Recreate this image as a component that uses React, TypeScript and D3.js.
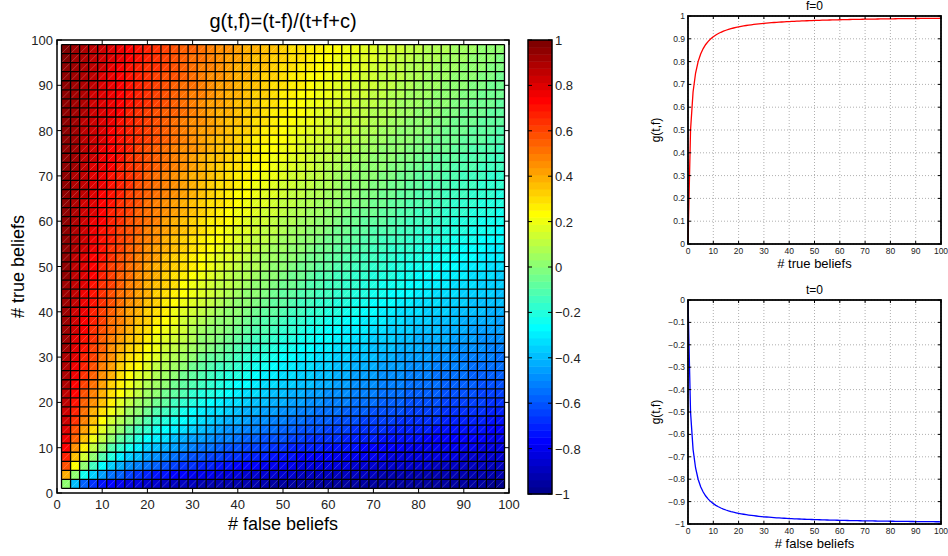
import React from "react";
import * as d3 from "d3";

// ---- data ----
const C = 1; // constant c in g(t,f)
const gridValues = d3.range(1, 100, 2); // grid points for t and f (1,3,...,99)
const lineSamples = d3.range(0, 101, 1); // samples 0..100
const heatTicks = [0, 10, 20, 30, 40, 50, 60, 70, 80, 90, 100];
const cbTicks = [1, 0.8, 0.6, 0.4, 0.2, 0, -0.2, -0.4, -0.6, -0.8, -1];
const topYTicks = [0, 0.1, 0.2, 0.3, 0.4, 0.5, 0.6, 0.7, 0.8, 0.9, 1];
const botYTicks = [0, -0.1, -0.2, -0.3, -0.4, -0.5, -0.6, -0.7, -0.8, -0.9, -1];
const lineXTicks = [0, 10, 20, 30, 40, 50, 60, 70, 80, 90, 100];

const g = (t: number, f: number) => (t - f) / (t + f + C);

// MATLAB jet(64)
function jetMap(m: number): string[] {
  const n = Math.ceil(m / 4);
  const u: number[] = [];
  for (let i = 1; i <= n; i++) u.push(i / n);
  for (let i = 1; i < n; i++) u.push(1);
  for (let i = n; i >= 1; i--) u.push(i / n);
  const off = Math.ceil(n / 2) - (m % 4 === 1 ? 1 : 0);
  const J = Array.from({ length: m }, () => [0, 0, 0]);
  u.forEach((val, k) => {
    const gi = off + k + 1;
    const ri = gi + n;
    const bi = gi - n;
    if (ri >= 1 && ri <= m) J[ri - 1][0] = val;
    if (gi >= 1 && gi <= m) J[gi - 1][1] = val;
    if (bi >= 1 && bi <= m) J[bi - 1][2] = val;
  });
  return J.map(([r, gg, b]) => d3.rgb(r * 255, gg * 255, b * 255).formatHex());
}
const JET = jetMap(64);
const colorOf = (v: number) => {
  let idx = Math.floor(((v + 1) / 2) * 64);
  idx = Math.max(0, Math.min(63, idx));
  return JET[idx];
};

const FONT = "'Liberation Sans', Arial, Helvetica, sans-serif";
const fmt = (v: number) => (v < 0 ? "\u2212" + String(+(-v).toFixed(2)) : String(+v.toFixed(2)));

export default function App() {
  // heatmap scales
  const xH = d3.scaleLinear().domain([0, 100]).range([57, 509]);
  const yH = d3.scaleLinear().domain([0, 100]).range([493, 40]);
  // colorbar
  const cbX0 = 528, cbX1 = 552;
  const yCB = d3.scaleLinear().domain([-1, 1]).range([494, 40]);
  // right plots
  const xR = d3.scaleLinear().domain([0, 100]).range([688, 941]);
  const yTop = d3.scaleLinear().domain([0, 1]).range([244, 16]);
  const yBot = d3.scaleLinear().domain([-1, 0]).range([524, 300]);

  const cells: JSX.Element[] = [];
  for (let i = 0; i < gridValues.length - 1; i++) {
    for (let j = 0; j < gridValues.length - 1; j++) {
      const f0 = gridValues[j], f1 = gridValues[j + 1];
      const t0 = gridValues[i], t1 = gridValues[i + 1];
      const x0 = xH(f0), x1 = xH(f1), y0 = yH(t0), y1 = yH(t1);
      cells.push(
        <rect key={`c${i}-${j}`} x={x0} y={y1} width={x1 - x0} height={y0 - y1}
          fill={colorOf(g(t0, f0))} stroke="none" />
      );
      cells.push(
        <line key={`d${i}-${j}`} x1={x0} y1={y0} x2={x1} y2={y1}
          stroke="#fff" strokeOpacity={0.35} strokeWidth={0.6} />
      );
    }
  }
  const meshLines: JSX.Element[] = [];
  gridValues.forEach((v, k) => {
    meshLines.push(<line key={`mv${k}`} x1={xH(v)} x2={xH(v)} y1={yH(gridValues[0])} y2={yH(gridValues[gridValues.length - 1])} stroke="#000" strokeWidth={1.3} />);
    meshLines.push(<line key={`mh${k}`} y1={yH(v)} y2={yH(v)} x1={xH(gridValues[0])} x2={xH(gridValues[gridValues.length - 1])} stroke="#000" strokeWidth={1.3} />);
  });

  const cbStops = JET.map((c, k) => (
    <rect key={`cb${k}`} x={cbX0} width={cbX1 - cbX0}
      y={yCB(-1 + ((k + 1) / 64) * 2)} height={yCB(-1 + (k / 64) * 2) - yCB(-1 + ((k + 1) / 64) * 2) + 0.5}
      fill={c} />
  ));

  const topLine = d3.line<number>().x((t) => xR(t)).y((t) => yTop(g(t, 0)))(lineSamples) || "";
  const botLine = d3.line<number>().x((f) => xR(f)).y((f) => yBot(g(0, f)))(lineSamples) || "";

  const linePanel = (
    yS: d3.ScaleLinear<number, number>, yTicks: number[], path: string, color: string,
    title: string, xlabel: string, titleY: number
  ) => {
    const [yb, yt] = yS.range();
    return (
      <g>
        {lineXTicks.map((v) => (
          <line key={`gx${v}`} x1={xR(v)} x2={xR(v)} y1={yb} y2={yt} stroke="#9a9a9a" strokeWidth={0.8} strokeDasharray="1,2" />
        ))}
        {yTicks.map((v) => (
          <line key={`gy${v}`} x1={xR(0)} x2={xR(100)} y1={yS(v)} y2={yS(v)} stroke="#9a9a9a" strokeWidth={0.8} strokeDasharray="1,2" />
        ))}
        <path d={path} fill="none" stroke={color} strokeWidth={1.3} />
        <rect x={xR(0)} y={yt} width={xR(100) - xR(0)} height={yb - yt} fill="none" stroke="#000" strokeWidth={1.8} />
        {lineXTicks.map((v) => (
          <g key={`tx${v}`}>
            <line x1={xR(v)} x2={xR(v)} y1={yb} y2={yb - 3} stroke="#000" strokeWidth={1} />
            <line x1={xR(v)} x2={xR(v)} y1={yt} y2={yt + 3} stroke="#000" strokeWidth={1} />
            <text x={xR(v)} y={yb + 10} textAnchor="middle" fontSize={8.5} fontFamily={FONT} fill="#222">{v}</text>
          </g>
        ))}
        {yTicks.map((v) => (
          <g key={`ty${v}`}>
            <line x1={xR(0)} x2={xR(0) + 3} y1={yS(v)} y2={yS(v)} stroke="#000" strokeWidth={1} />
            <line x1={xR(100)} x2={xR(100) - 3} y1={yS(v)} y2={yS(v)} stroke="#000" strokeWidth={1} />
            <text x={xR(0) - 3} y={yS(v) + 3} textAnchor="end" fontSize={8.5} fontFamily={FONT} fill="#222">{fmt(v)}</text>
          </g>
        ))}
        <text x={(xR(0) + xR(100)) / 2} y={yb + 24} textAnchor="middle" fontSize={13} fontFamily={FONT} fill="#000">{xlabel}</text>
        <text x={(xR(0) + xR(100)) / 2} y={titleY} textAnchor="middle" fontSize={12} fontFamily={FONT} fill="#000">{title}</text>
        <text transform={`translate(660,${(yb + yt) / 2}) rotate(-90)`} textAnchor="middle" fontSize={12} fontFamily={FONT} fill="#000">g(t,f)</text>
      </g>
    );
  };

  return (
    <svg width={948} height={556} style={{ position: "absolute", left: 0, top: 0, background: "#fff" }}>
      <rect x={0} y={0} width={948} height={556} fill="#fff" />
      {/* heatmap */}
      <g>{cells}</g>
      <g>{meshLines}</g>
      <rect x={xH(0)} y={yH(100)} width={xH(100) - xH(0)} height={yH(0) - yH(100)} fill="none" stroke="#000" strokeWidth={1.5} />
      {heatTicks.map((v) => (
        <g key={`hx${v}`}>
          <line x1={xH(v)} x2={xH(v)} y1={yH(0)} y2={yH(0) - 5} stroke="#000" />
          <line x1={xH(v)} x2={xH(v)} y1={yH(100)} y2={yH(100) + 5} stroke="#000" />
          <text x={xH(v)} y={yH(0) + 16} textAnchor="middle" fontSize={13} fontFamily={FONT} fill="#222">{v}</text>
          <line y1={yH(v)} y2={yH(v)} x1={xH(0)} x2={xH(0) + 5} stroke="#000" />
          <line y1={yH(v)} y2={yH(v)} x1={xH(100)} x2={xH(100) - 5} stroke="#000" />
          <text x={xH(0) - 4} y={yH(v) + 5} textAnchor="end" fontSize={13} fontFamily={FONT} fill="#222">{v}</text>
        </g>
      ))}
      <text x={(xH(0) + xH(100)) / 2} y={28} textAnchor="middle" fontSize={20} fontFamily={FONT} fill="#000">g(t,f)=(t-f)/(t+f+c)</text>
      <text x={(xH(0) + xH(100)) / 2} y={530} textAnchor="middle" fontSize={18} fontFamily={FONT} fill="#000"># false beliefs</text>
      <text transform={`translate(24,${(yH(0) + yH(100)) / 2}) rotate(-90)`} textAnchor="middle" fontSize={18} fontFamily={FONT} fill="#000"># true beliefs</text>
      {/* colorbar */}
      <g>{cbStops}</g>
      <rect x={cbX0} y={yCB(1)} width={cbX1 - cbX0} height={yCB(-1) - yCB(1)} fill="none" stroke="#000" strokeWidth={1.5} />
      {cbTicks.map((v) => (
        <g key={`cbt${v}`}>
          <line x1={cbX0} x2={cbX0 + 4} y1={yCB(v)} y2={yCB(v)} stroke="#000" />
          <line x1={cbX1} x2={cbX1 - 4} y1={yCB(v)} y2={yCB(v)} stroke="#000" />
          <text x={cbX1 + 3} y={yCB(v) + 5} fontSize={13} fontFamily={FONT} fill="#222">{fmt(v)}</text>
        </g>
      ))}
      {/* right plots */}
      {linePanel(yTop, topYTicks, topLine, "#ff0000", "f=0", "# true beliefs", 10)}
      {linePanel(yBot, botYTicks, botLine, "#0000ff", "t=0", "# false beliefs", 294)}
    </svg>
  );
}
